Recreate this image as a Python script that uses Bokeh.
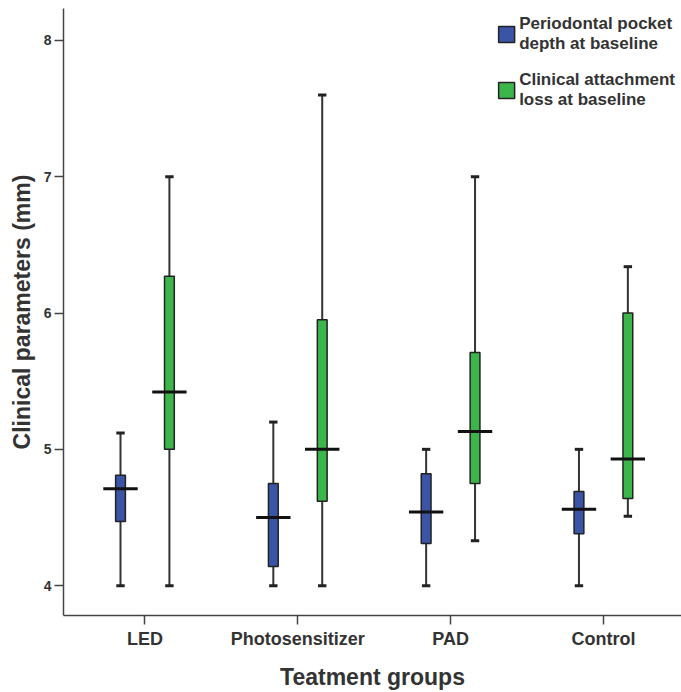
import numpy as np
from bokeh.plotting import figure
from bokeh.models import ColumnDataSource, FixedTicker, Legend, LegendItem, Range1d
from bokeh.embed import file_html
from bokeh.resources import INLINE

# ---- data ----
groups = ["LED", "Photosensitizer", "PAD", "Control"]

# Periodontal pocket depth at baseline
ppd_min = [4.00, 4.00, 4.00, 4.00]
ppd_q1 = [4.47, 4.14, 4.31, 4.38]
ppd_med = [4.71, 4.50, 4.54, 4.56]
ppd_q3 = [4.81, 4.75, 4.82, 4.69]
ppd_max = [5.12, 5.20, 5.00, 5.00]

# Clinical attachment loss at baseline
cal_min = [4.00, 4.00, 4.33, 4.51]
cal_q1 = [5.00, 4.62, 4.75, 4.64]
cal_med = [5.42, 5.00, 5.13, 4.93]
cal_q3 = [6.27, 5.95, 5.71, 6.00]
cal_max = [7.00, 7.60, 7.00, 6.34]

y_ticks = [4, 5, 6, 7, 8]

series_labels = ["Periodontal pocket\ndepth at baseline", "Clinical attachment\nloss at baseline"]
series_colors = ["#3b55a6", "#3cb54b"]

# ---- styling ----
FONT = "Liberation Sans"
TXT = "#333333"
OFFSET = 0.16
BOX_W = 0.064
MED_W = 0.225
CAP_W = 0.055

p = figure(width=681, height=692, output_backend="svg", toolbar_location=None,
           x_range=Range1d(-0.533, 3.511), y_range=Range1d(3.781, 8.234),
           min_border_left=63, min_border_right=0, min_border_top=8, min_border_bottom=75)
p.background_fill_color = "white"
p.border_fill_color = "white"
p.outline_line_color = None
p.grid.visible = False

idx = np.arange(len(groups))
renderers = []
for k, (mn, q1, md, q3, mx) in enumerate([
        (ppd_min, ppd_q1, ppd_med, ppd_q3, ppd_max),
        (cal_min, cal_q1, cal_med, cal_q3, cal_max)]):
    x = idx + (-OFFSET if k == 0 else OFFSET)
    src = ColumnDataSource(dict(
        x=x, mn=mn, q1=q1, md=md, q3=q3, mx=mx,
        cl=x - CAP_W / 2, cr=x + CAP_W / 2,
        ml=x - MED_W / 2, mr=x + MED_W / 2))
    p.segment(x0="x", y0="mn", x1="x", y1="mx", source=src, line_color="#333333", line_width=2)
    p.segment(x0="cl", y0="mn", x1="cr", y1="mn", source=src, line_color="#222222", line_width=3)
    p.segment(x0="cl", y0="mx", x1="cr", y1="mx", source=src, line_color="#222222", line_width=3)
    r = p.vbar(x="x", bottom="q1", top="q3", width=BOX_W, source=src,
               fill_color=series_colors[k], line_color="#222222", line_width=1.5)
    renderers.append(r)
    p.segment(x0="ml", y0="md", x1="mr", y1="md", source=src, line_color="#111111", line_width=3)

# ---- axes ----
p.xaxis.ticker = FixedTicker(ticks=list(idx))
p.xaxis.major_label_overrides = {int(i): g for i, g in zip(idx, groups)}
p.yaxis.ticker = FixedTicker(ticks=y_ticks)
for ax in (p.xaxis, p.yaxis):
    ax.axis_line_color = "#444444"
    ax.axis_line_width = 1.5
    ax.major_tick_line_color = "#444444"
    ax.major_tick_line_width = 1.5
    ax.major_tick_in = 0
    ax.minor_tick_line_color = None
    ax.major_label_text_font = FONT
    ax.major_label_text_font_style = "bold"
    ax.major_label_text_color = TXT
    ax.axis_label_text_font = FONT
    ax.axis_label_text_font_style = "bold"
    ax.axis_label_text_color = TXT
p.xaxis.major_tick_out = 9
p.yaxis.major_tick_out = 9
p.xaxis.major_label_text_font_size = "18px"
p.yaxis.major_label_text_font_size = "14px"
p.xaxis.major_label_standoff = 4
p.yaxis.major_label_standoff = 3

p.yaxis.axis_label = "Clinical parameters (mm)"
p.yaxis.axis_label_text_font_size = "23px"
p.yaxis.axis_label_standoff = 6

p.xaxis.axis_label = "Teatment groups"
p.xaxis.axis_label_text_font_size = "23px"
p.xaxis.axis_label_standoff = 12

# ---- legend ----
legend = Legend(items=[LegendItem(label=series_labels[i], renderers=[renderers[i]]) for i in range(2)],
                location="top_right", border_line_color=None, background_fill_alpha=0,
                margin=6, padding=0, spacing=16, label_standoff=3,
                glyph_width=20, glyph_height=20,
                label_text_font=FONT, label_text_font_style="bold",
                label_text_font_size="17px", label_text_color=TXT,
                label_text_line_height=1.1)
p.add_layout(legend)

open("out.html", "w").write(file_html(p, INLINE))
